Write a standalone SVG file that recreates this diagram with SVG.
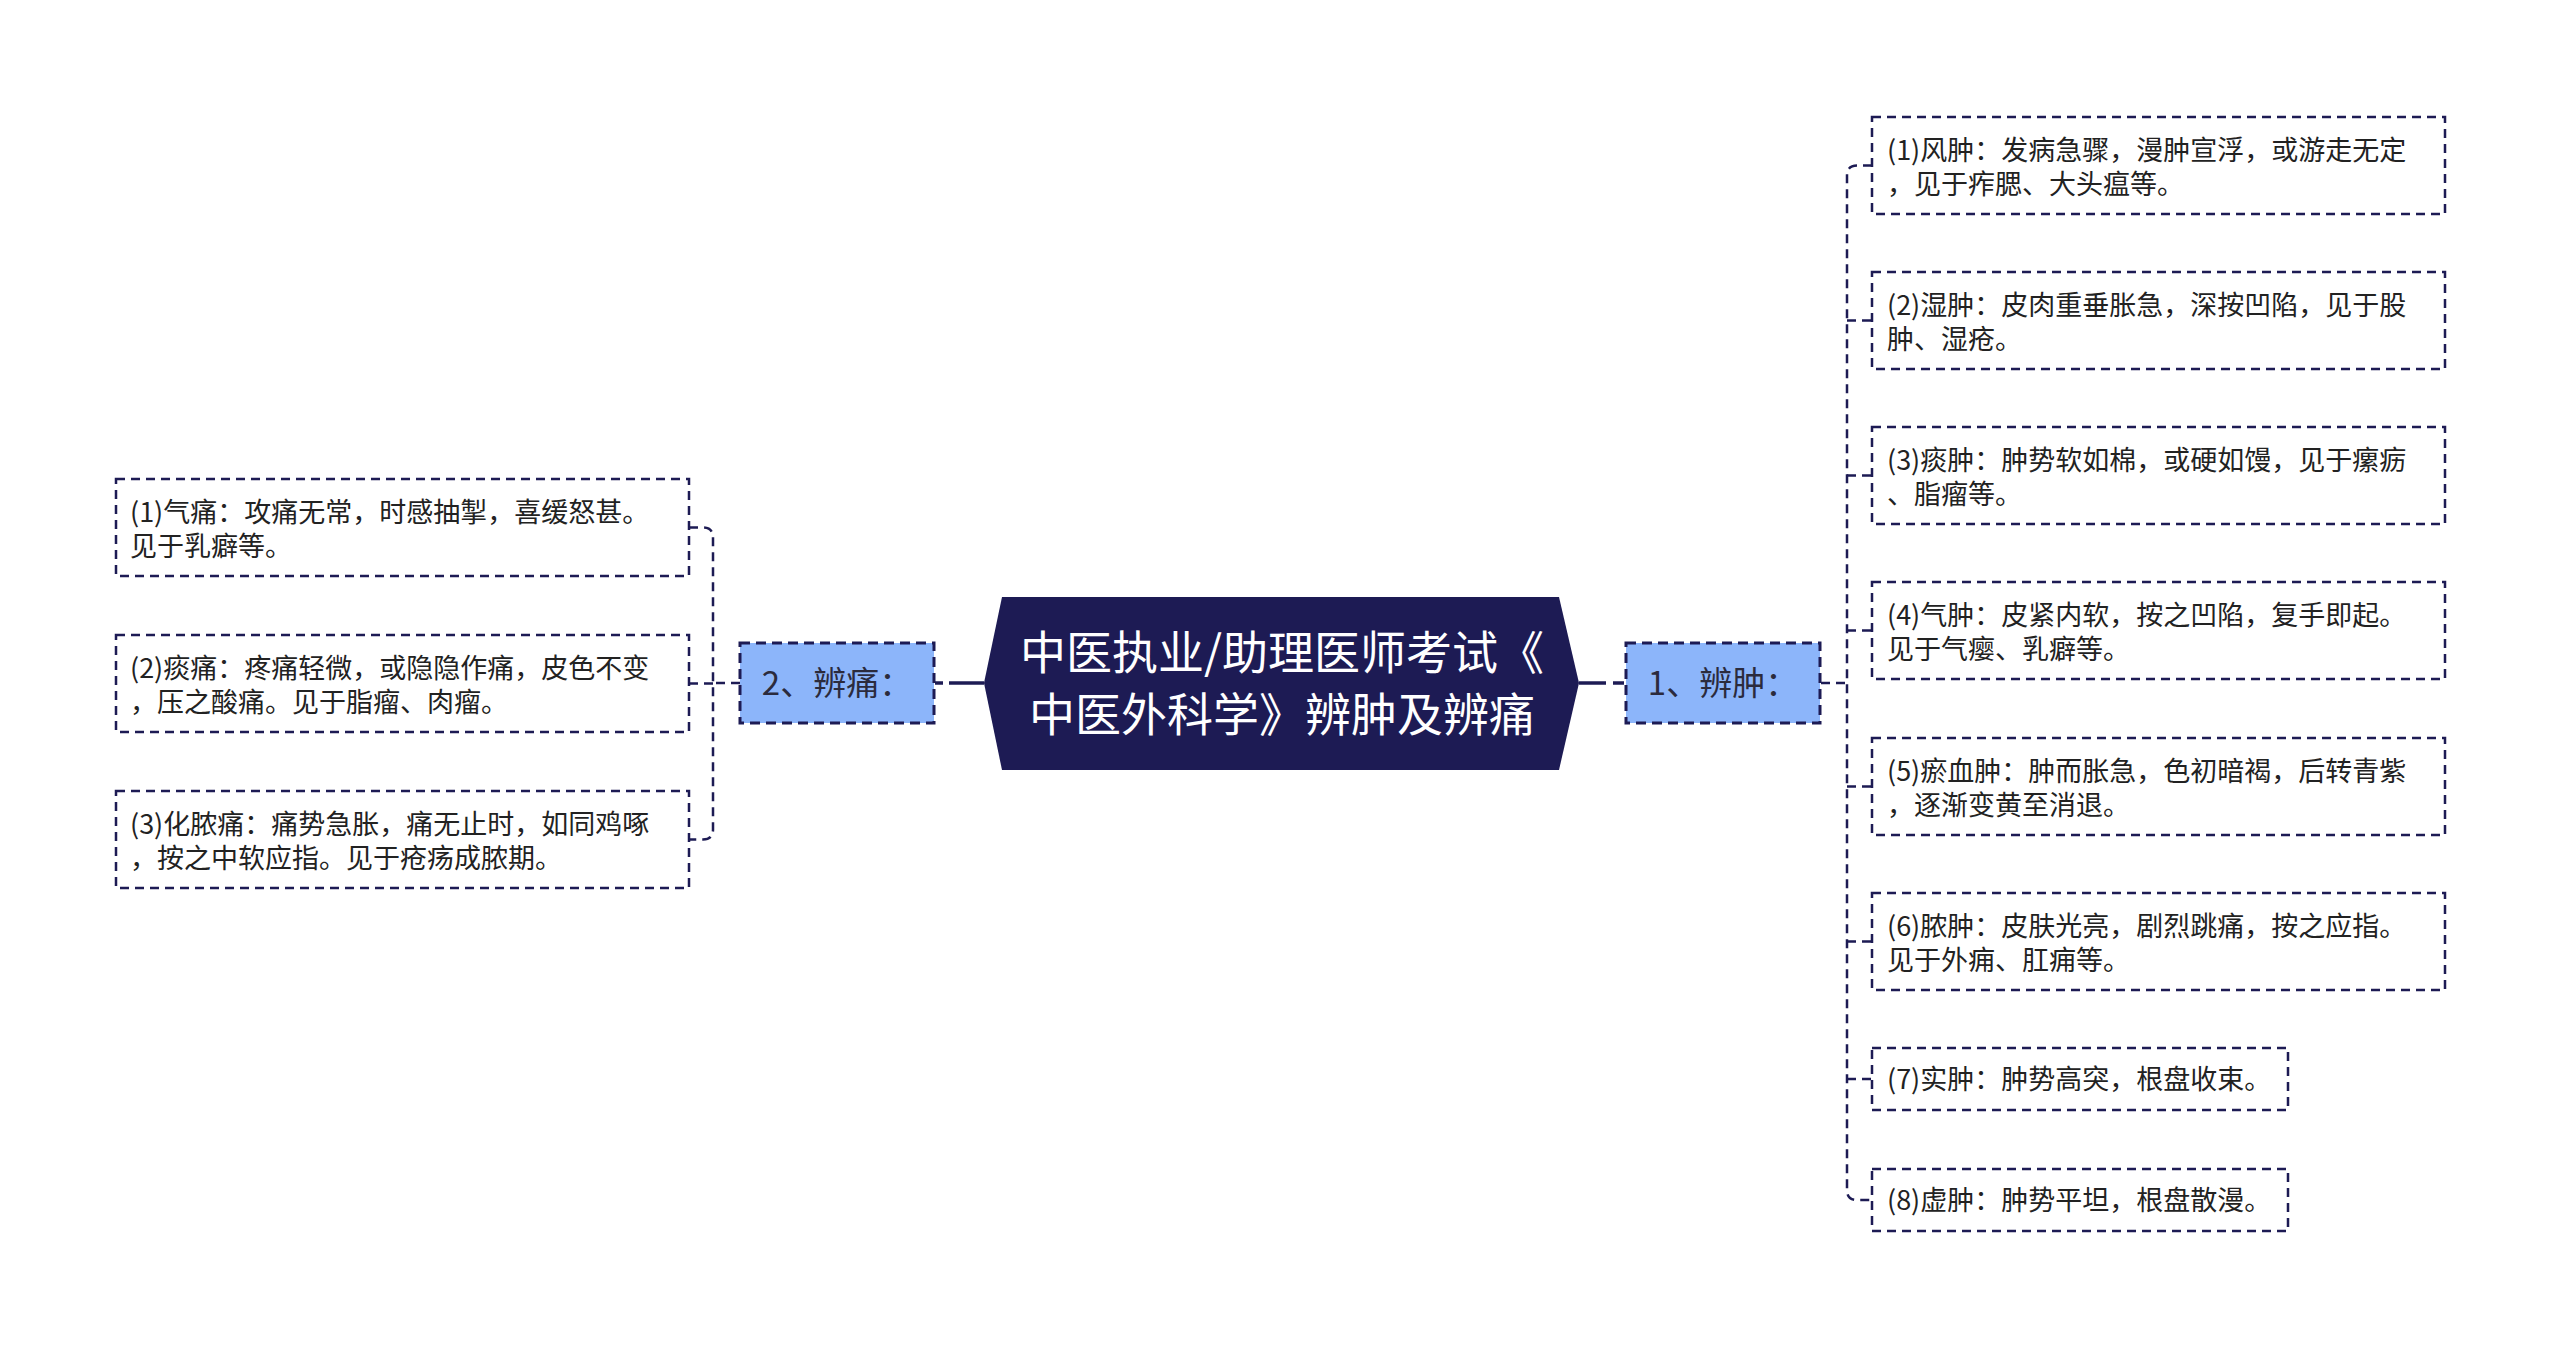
<svg xmlns="http://www.w3.org/2000/svg" width="2560" height="1349" viewBox="0 0 2560 1349">
<style>
text{font-family:"Noto Sans CJK SC","Noto Sans",sans-serif;}
.leaf rect{fill:#ffffff;stroke:#1d1b54;stroke-width:2.5;stroke-dasharray:9 6;}
.leaf text{font-size:27px;fill:#222222;}
.sub rect{fill:#8cb5fa;stroke:#1d1b54;stroke-width:3;stroke-dasharray:10 6;}
.sub text{font-size:33px;fill:#2b2b3d;text-anchor:middle;}
.root polygon{fill:#1d1b54;}
.root text{font-size:46px;fill:#ffffff;text-anchor:middle;}
.conn{fill:none;stroke:#1d1b54;stroke-width:2.5;stroke-dasharray:9 6;}
.solid{fill:none;stroke:#1d1b54;stroke-width:3.5;}
</style>
<rect width="2560" height="1349" fill="#ffffff"/>
<g id="connectors">
  <line class="solid" x1="1579" y1="683" x2="1606" y2="683"/>
  <line class="solid" x1="1613" y1="683" x2="1624" y2="683" stroke-width="3"/>
  <line class="solid" x1="984" y1="683" x2="949" y2="683"/>
  <line class="solid" x1="943" y1="683" x2="935" y2="683" stroke-width="3"/>
  <line class="conn" x1="1821" y1="683" x2="1847" y2="683"/>
  <path class="conn" d="M1872 165.5 H1857 Q1847 165.5 1847 175.5 V1190 Q1847 1200 1857 1200 H1872"/>
  <line class="conn" x1="1847" y1="320.5" x2="1872" y2="320.5"/>
  <line class="conn" x1="1847" y1="475.5" x2="1872" y2="475.5"/>
  <line class="conn" x1="1847" y1="630.5" x2="1872" y2="630.5"/>
  <line class="conn" x1="1847" y1="786.5" x2="1872" y2="786.5"/>
  <line class="conn" x1="1847" y1="941.5" x2="1872" y2="941.5"/>
  <line class="conn" x1="1847" y1="1079" x2="1872" y2="1079"/>
  <line class="conn" x1="740" y1="683" x2="713" y2="683"/>
  <path class="conn" d="M689 527.5 H703 Q713 527.5 713 537.5 V829.5 Q713 839.5 703 839.5 H689"/>
  <line class="conn" x1="713" y1="683.5" x2="689" y2="683.5"/>
</g>
<g id="root" class="root">
  <polygon points="984,683 1002,597 1559,597 1579,683 1559,770 1002,770"/>
  <text x="1282" y="669">中医执业/助理医师考试《</text>
  <text x="1282" y="731">中医外科学》辨肿及辨痛</text>
</g>
<g id="n1" class="sub">
  <rect x="1626" y="643" width="194" height="80"/>
  <text x="1723" y="695">1、辨肿：</text>
</g>
<g id="n2" class="sub">
  <rect x="740" y="643" width="194" height="80"/>
  <text x="837" y="695">2、辨痛：</text>
</g>
<g id="l1" class="leaf">
  <rect x="116" y="479" width="573" height="97"/>
  <text x="130" y="522">(1)气痛：攻痛无常，时感抽掣，喜缓怒甚。</text>
  <text x="130" y="556">见于乳癖等。</text>
</g>
<g id="l2" class="leaf">
  <rect x="116" y="635" width="573" height="97"/>
  <text x="130" y="678">(2)痰痛：疼痛轻微，或隐隐作痛，皮色不变</text>
  <text x="130" y="712">，压之酸痛。见于脂瘤、肉瘤。</text>
</g>
<g id="l3" class="leaf">
  <rect x="116" y="791" width="573" height="97"/>
  <text x="130" y="834">(3)化脓痛：痛势急胀，痛无止时，如同鸡啄</text>
  <text x="130" y="868">，按之中软应指。见于疮疡成脓期。</text>
</g>
<g id="r1" class="leaf">
  <rect x="1872" y="117" width="573" height="97"/>
  <text x="1887" y="160">(1)风肿：发病急骤，漫肿宣浮，或游走无定</text>
  <text x="1887" y="194">，见于痄腮、大头瘟等。</text>
</g>
<g id="r2" class="leaf">
  <rect x="1872" y="272" width="573" height="97"/>
  <text x="1887" y="315">(2)湿肿：皮肉重垂胀急，深按凹陷，见于股</text>
  <text x="1887" y="349">肿、湿疮。</text>
</g>
<g id="r3" class="leaf">
  <rect x="1872" y="427" width="573" height="97"/>
  <text x="1887" y="470">(3)痰肿：肿势软如棉，或硬如馒，见于瘰疬</text>
  <text x="1887" y="504">、脂瘤等。</text>
</g>
<g id="r4" class="leaf">
  <rect x="1872" y="582" width="573" height="97"/>
  <text x="1887" y="625">(4)气肿：皮紧内软，按之凹陷，复手即起。</text>
  <text x="1887" y="659">见于气瘿、乳癖等。</text>
</g>
<g id="r5" class="leaf">
  <rect x="1872" y="738" width="573" height="97"/>
  <text x="1887" y="781">(5)瘀血肿：肿而胀急，色初暗褐，后转青紫</text>
  <text x="1887" y="815">，逐渐变黄至消退。</text>
</g>
<g id="r6" class="leaf">
  <rect x="1872" y="893" width="573" height="97"/>
  <text x="1887" y="936">(6)脓肿：皮肤光亮，剧烈跳痛，按之应指。</text>
  <text x="1887" y="970">见于外痈、肛痈等。</text>
</g>
<g id="r7" class="leaf">
  <rect x="1872" y="1048" width="416" height="62"/>
  <text x="1887" y="1089">(7)实肿：肿势高突，根盘收束。</text>
</g>
<g id="r8" class="leaf">
  <rect x="1872" y="1169" width="416" height="62"/>
  <text x="1887" y="1210">(8)虚肿：肿势平坦，根盘散漫。</text>
</g>
</svg>
